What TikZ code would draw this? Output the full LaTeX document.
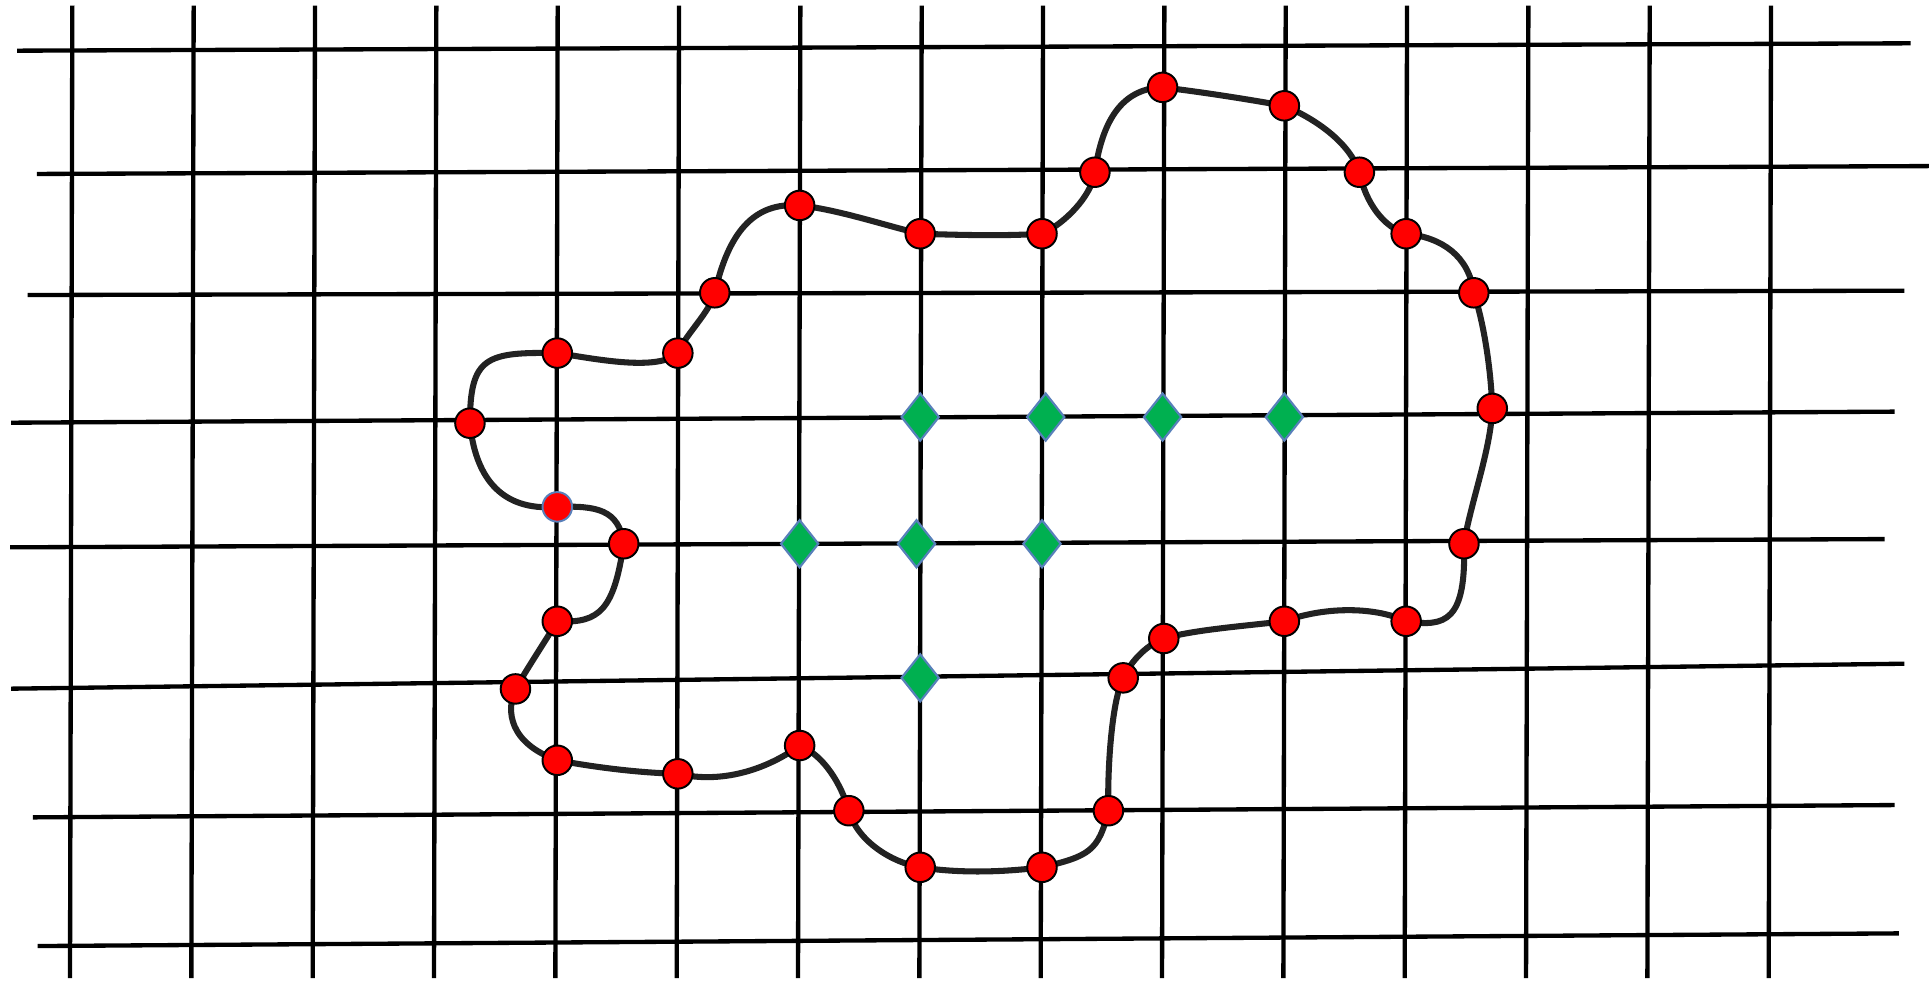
\documentclass[tikz,border=0pt]{standalone}
\usetikzlibrary{shapes.geometric,backgrounds}
\definecolor{dotred}{RGB}{255,0,0}
\definecolor{diagreen}{RGB}{0,176,80}
\definecolor{diaedge}{RGB}{88,128,186}
\definecolor{curvegray}{RGB}{34,34,34}
\begin{document}
\begin{tikzpicture}[x=0.01cm, y=-0.01cm,
  gridline/.style={line width=1pt, black},
  outline/.style={line width=1.4pt, curvegray},
  reddot/.style={circle, fill=dotred, draw=black, line width=0.45pt, minimum size=0.24cm, inner sep=0pt},
  greendiamond/.style={diamond, fill=diagreen, draw=diaedge, line width=0.5pt, minimum width=0.31cm, minimum height=0.39cm, inner sep=0pt}]
  \useasboundingbox (0,0) rectangle (1568,797);
  % points where the curve meets the grid
  \node[reddot] (p1) at (382,344) {};
  \node[reddot] (p2) at (453,287) {};
  \node[reddot] (p3) at (551,287) {};
  \node[reddot] (p4) at (581,238) {};
  \node[reddot] (p5) at (650,167) {};
  \node[reddot] (p6) at (748,190) {};
  \node[reddot] (p7) at (847,190) {};
  \node[reddot] (p8) at (890,140) {};
  \node[reddot] (p9) at (945,71) {};
  \node[reddot] (p10) at (1044,86) {};
  \node[reddot] (p11) at (1105,140) {};
  \node[reddot] (p12) at (1143,190) {};
  \node[reddot] (p13) at (1198,238) {};
  \node[reddot] (p14) at (1213,332) {};
  \node[reddot] (p15) at (1190,442) {};
  \node[reddot] (p16) at (1143,505) {};
  \node[reddot] (p17) at (1044,505) {};
  \node[reddot] (p18) at (946,519) {};
  \node[reddot] (p19) at (913,551) {};
  \node[reddot] (p20) at (901,659) {};
  \node[reddot] (p21) at (847,705) {};
  \node[reddot] (p22) at (748,705) {};
  \node[reddot] (p23) at (690,659) {};
  \node[reddot] (p24) at (650,606) {};
  \node[reddot] (p25) at (551,629) {};
  \node[reddot] (p26) at (453,618) {};
  \node[reddot] (p27) at (419,560) {};
  \node[reddot] (p28) at (453,505) {};
  \node[reddot] (p29) at (507,442) {};
  \node[reddot, draw=diaedge] (p30) at (453,412) {};
  % inner grid points
  \node[greendiamond] (q1) at (748,339) {};
  \node[greendiamond] (q2) at (850,339) {};
  \node[greendiamond] (q3) at (945,339) {};
  \node[greendiamond] (q4) at (1044,339) {};
  \node[greendiamond] (q5) at (650,442) {};
  \node[greendiamond] (q6) at (745,442) {};
  \node[greendiamond] (q7) at (847,442) {};
  \node[greendiamond] (q8) at (748,551) {};
  \begin{scope}[on background layer]
    \foreach \i in {0,...,14}
      \draw[gridline] ({58.8+98.63*\i},4.5) -- ({56.9+98.63*\i},795);
    \foreach \xa/\ya/\xb/\yb in {14/41.2/1553/35.2, 30/141.4/1568/135, 22.5/239.8/1548/236.3,
        9/343.6/1540/334.6, 8.3/444.9/1532/438.2, 9/559.8/1548/539.5,
        26.8/664.4/1540/654.4, 30.5/769/1543.5/758.7}
      \draw[gridline] (\xa,\ya) -- (\xb,\yb);
    \draw[outline] (p1.center)
      .. controls (382,290) and (395,286) .. (p2.center)
      .. controls (485,292) and (535,302) .. (p3.center)
      .. controls (557,272) and (577,254) .. (p4.center)
      .. controls (592,190) and (612,164) .. (p5.center)
      .. controls (680,170) and (722,184) .. (p6.center)
      .. controls (780,191) and (815,192) .. (p7.center)
      .. controls (865,182) and (887,160) .. (p8.center)
      .. controls (895,105) and (908,72) .. (p9.center)
      .. controls (978,75) and (1010,80) .. (p10.center)
      .. controls (1070,97) and (1097,116) .. (p11.center)
      .. controls (1110,165) and (1125,185) .. (p12.center)
      .. controls (1172,193) and (1194,208) .. (p13.center)
      .. controls (1206,262) and (1212,300) .. (p14.center)
      .. controls (1212,365) and (1195,410) .. (p15.center)
      .. controls (1192,505) and (1175,510) .. (p16.center)
      .. controls (1120,494) and (1080,492) .. (p17.center)
      .. controls (1010,509) and (970,512) .. (p18.center)
      .. controls (930,525) and (918,540) .. (p19.center)
      .. controls (903,572) and (900,630) .. (p20.center)
      .. controls (893,692) and (885,696) .. (p21.center)
      .. controls (815,709) and (780,710) .. (p22.center)
      .. controls (725,701) and (697,684) .. (p23.center)
      .. controls (684,638) and (670,614) .. (p24.center)
      .. controls (627,623) and (590,638) .. (p25.center)
      .. controls (515,628) and (480,623) .. (p26.center)
      .. controls (414,604) and (411,578) .. (p27.center)
      .. controls (430,541) and (442,523) .. (p28.center)
      .. controls (488,507) and (499,495) .. (p29.center)
      .. controls (503,414) and (485,411) .. (p30.center)
      .. controls (405,416) and (386,385) .. cycle;
  \end{scope}
\end{tikzpicture}
\end{document}
